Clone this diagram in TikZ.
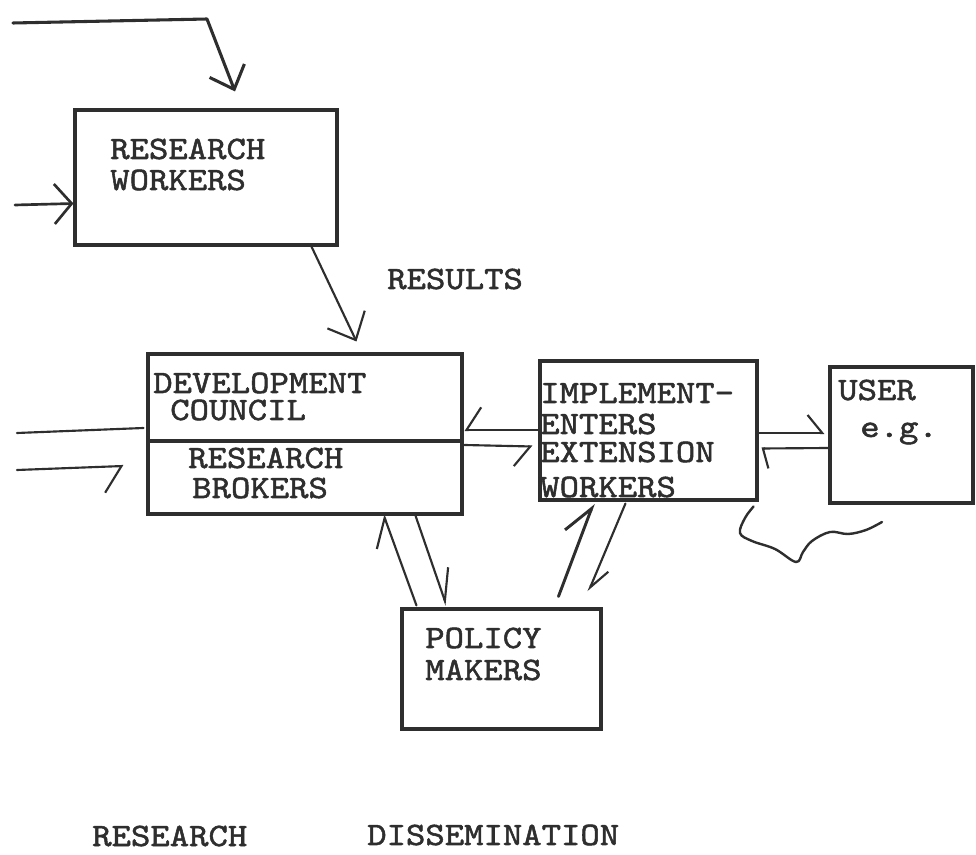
\documentclass[tikz,border=0pt]{standalone}
\usepackage{fontspec}
\newfontfamily\typewriter{lmmono10-regular.otf}[FakeStretch=1.13, FakeBold=1.6]
\usetikzlibrary{arrows.meta,calc}
\definecolor{ink}{HTML}{2E2E2E}
\begin{document}
\begin{tikzpicture}[x=0.75pt,y=-0.75pt,
  box/.style={draw=ink, line width=2.3pt, rectangle, inner sep=0pt},
  txt/.style={anchor=base west, inner sep=0pt, text=ink,
    font=\typewriter\fontsize{24.5pt}{29pt}\selectfont},
  link/.style={draw=ink, line width=1.6pt, line cap=round, line join=round},
  barb/.style 2 args={-{Straight Barb[length=#1, width=#2]}},
  lbarb/.style 2 args={-{Straight Barb[left, length=#1, width=#2]}},
  rbarb/.style 2 args={-{Straight Barb[right, length=#1, width=#2]}},
]
\useasboundingbox[fill=white] (0,0) rectangle (976,855);

% boxes
\node[box, minimum width=196.5pt, minimum height=101.25pt] (rw) at (206,177.5) {};
\node[box, minimum width=235.5pt, minimum height=120pt] (dc) at (305,434) {};
\node[box, minimum width=162.75pt, minimum height=104.25pt] (ie) at (648.5,430.5) {};
\node[box, minimum width=107.25pt, minimum height=102pt] (user) at (901.5,435) {};
\node[box, minimum width=149.25pt, minimum height=90pt] (pm) at (501.5,669) {};

% divider of the council box
\draw[ink, line width=2.3pt] ($(dc.west)+(0,7)$) -- ($(dc.east)+(0,7)$);

% labels
\node[txt] (rw1) at (110,159) {RESEARCH};
\node[txt] (rw2) at (110,190) {WORKERS};
\node[txt] (res) at (387,289) {RESULTS};
\node[txt] (dc1) at (153,393) {DEVELOPMENT};
\node[txt] (dc2) at (170,420) {COUNCIL};
\node[txt] (dc3) at (188,468) {RESEARCH};
\node[txt] (dc4) at (192,498) {BROKERS};
\node[txt] (ie1) at (540,403) {IMPLEMENT-};
\node[txt] (ie2) at (540,434) {ENTERS};
\node[txt] (ie3) at (540,462) {EXTENSION};
\node[txt] (ie4) at (540,497) {WORKERS};
\node[txt] (us1) at (838,400) {USER};
\node[txt] (us2) at (860,437) {e.g.};
\node[txt] (pm1) at (425,648) {POLICY};
\node[txt] (pm2) at (425,680) {MAKERS};
\node[txt] (bl1) at (92,846) {RESEARCH};
\node[txt] (bl2) at (367,845) {DISSEMINATION};

% incoming from the left margin
\coordinate (t0) at (13,23);
\coordinate (t1) at (207,19);
\draw[link, line width=2.3pt, barb={15pt}{28pt}] (t0) -- (t1) -- ($(rw.north)+(29,-17)$);
\coordinate (l0) at (15,205);
\draw[link, line width=2pt, barb={13pt}{30pt}] (l0) -- ($(rw.west)+(0,26)$);
\coordinate (c0) at (17,433);
\draw[link] (c0) -- ($(dc.west)+(-3,-6)$);
\coordinate (c1) at (17,470);
\draw[link, rbarb={13pt}{39pt}] (c1) -- ($(dc.west)+(-23,32)$);

% results
\draw[link, barb={17pt}{31pt}] ($(rw.south west)+(238,0)$) -- ($(dc.north west)+(210,-11)$);

% council <-> implementers
\draw[link, rbarb={11pt}{34pt}] ($(ie.west)+(0,-0.5)$) -- ($(dc.east)+(1,-4)$);
\draw[link, rbarb={12pt}{30pt}] ($(dc.east)+(1,11)$) -- ($(ie.west)+(-6,16)$);

% implementers <-> user
\draw[link, lbarb={11pt}{27pt}] ($(ie.east)+(0,2.5)$) -- ($(user.west)+(-4,-2)$);
\draw[link, lbarb={4pt}{30pt}] ($(user.west)+(0,13)$) -- ($(ie.east)+(3,18)$);

% council <-> policy makers
\draw[link, lbarb={20pt}{27pt}] ($(pm.north west)+(16,-2)$) -- ($(dc.south west)+(237,-1)$);
\draw[link, lbarb={23pt}{21pt}] ($(dc.south west)+(269,0)$) -- ($(pm.north west)+(46,-2)$);

% implementers <-> policy makers
\draw[link, line width=2.2pt, lbarb={22pt}{26pt}] ($(pm.north west)+(158,-11)$) -- ($(ie.south west)+(55,2)$);
\draw[link, lbarb={16pt}{16pt}] ($(ie.south west)+(87,2)$) -- ($(pm.north west)+(188,-16)$);

% freehand stroke under the user box
\draw[link, line width=1.8pt] plot[smooth, tension=0.6] coordinates {($(ie.south east)+(-5,5)$) (745,518) (740,533) (752,541) (775,549) (796,562) (803,552) (812,541) (830,532) (848,534) (866,530) (882,522)};
\end{tikzpicture}
\end{document}
